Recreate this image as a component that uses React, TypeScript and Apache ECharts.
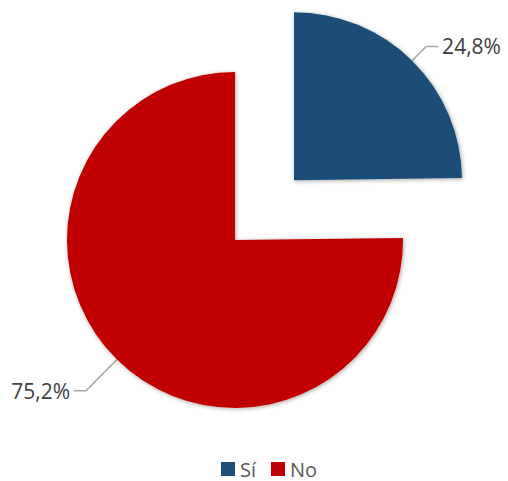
import React, { useEffect, useRef } from "react";
import * as echarts from "echarts";

const categories = ["Sí", "No"];
const values = [24.8, 75.2];
const colors = ["#1F4E79", "#C00000"];

export default function App() {
  const ref = useRef<HTMLDivElement>(null);
  useEffect(() => {
    if (!ref.current) return;
    const chart = echarts.init(ref.current, null, { renderer: "svg" });
    const font = "'Open Sans', 'Noto Sans', sans-serif";
    chart.setOption({
      animation: false,
      backgroundColor: "#ffffff",
      legend: {
        top: 457,
        left: 221,
        padding: 0,
        itemWidth: 14,
        itemHeight: 14,
        itemGap: 15,
        icon: "rect",
        selectedMode: false,
        textStyle: { fontSize: 20, lineHeight: 24, color: "#595959", fontFamily: font },
        data: categories,
      },
      series: [
        {
          type: "pie",
          center: [235, 240],
          radius: [0, 168],
          startAngle: 90,
          clockwise: true,
          selectedMode: "single",
          selectedOffset: 84,
          avoidLabelOverlap: false,
          itemStyle: {
            shadowBlur: 4,
            shadowColor: "rgba(0,0,0,0.35)",
            shadowOffsetX: 1,
            shadowOffsetY: 1,
          },
          emphasis: { disabled: true },
          label: {
            show: true,
            position: "outside",
            fontSize: 21,
            color: "#404040",
            fontFamily: font,
            distanceToLabelLine: 4,
            formatter: (p: any) => p.value.toFixed(1).replace(".", ",") + "%",
          },
          labelLine: {
            show: true,
            lineStyle: { color: "#A6A6A6", width: 1.5 },
          },
          data: categories.map((c, i) => ({
            name: c,
            value: values[i],
            selected: i === 0,
            itemStyle: { color: colors[i] },
            labelLine: i === 0 ? { length: 20, length2: 12 } : { length: 44, length2: 12 },
          })),
        },
      ],
    });
    return () => chart.dispose();
  }, []);
  return (
    <div
      ref={ref}
      style={{ position: "fixed", left: 0, top: 0, width: 508, height: 481 }}
    />
  );
}
